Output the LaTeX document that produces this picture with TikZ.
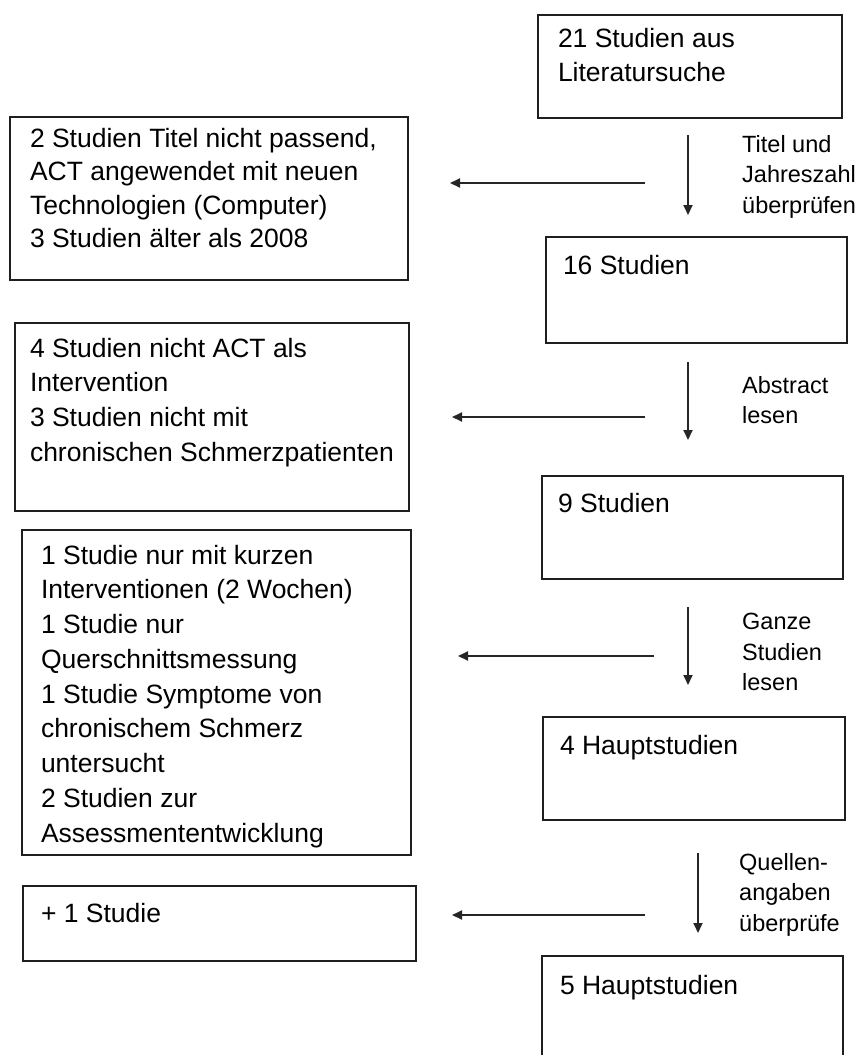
\documentclass[tikz,border=0pt]{standalone}
\usepackage{fontspec}
\setmainfont{Liberation Sans}
\usetikzlibrary{arrows.meta}
% #1 width, #2 height, #3 top pad, #4 left pad, #5 baselineskip, #6 text
\newcommand{\boxcontent}[6]{\parbox[t][#2pt][t]{#1pt}{\fontsize{26.5}{#5}\selectfont\raggedright\leftskip=#4pt\relax\vspace*{#3pt}#6}}
\tikzset{
  stepbox/.style={draw=black!88, line width=2pt, inner sep=0pt, outer sep=0pt, anchor=north west},
  steplabel/.style={inner sep=0pt, anchor=north west, align=left, font=\fontsize{23.5}{30.5}\selectfont},
  flow/.style={draw=black!85, line width=1.8pt, -{Triangle[length=10pt,width=9pt]}}
}
\begin{document}
\begin{tikzpicture}[x=1pt,y=-1pt]
\useasboundingbox (0,0) rectangle (863,1055);
\clip (0,0) rectangle (863,1055);

% right column
\node[stepbox] (b1) at (538,15) {\boxcontent{304}{103}{13}{20}{34}{21 Studien aus\\Literatursuche}};
\node[stepbox] (b16) at (546,237) {\boxcontent{301}{106}{18}{17}{34}{16 Studien}};
\node[stepbox] (b9) at (542,476) {\boxcontent{301}{103}{17}{16}{34}{9 Studien}};
\node[stepbox] (bh4) at (543,717) {\boxcontent{302}{103}{18}{17}{34}{4 Hauptstudien}};
\node[stepbox] (bh5) at (542,956) {\boxcontent{301}{140}{19}{18}{34}{5 Hauptstudien}};

% left column
\node[stepbox] (e1) at (10,117) {\boxcontent{398}{163}{11}{20}{33.4}{2 Studien Titel nicht passend,\\ACT angewendet mit neuen\\Technologien (Computer)\\3 Studien älter als 2008}};
\node[stepbox] (e2) at (15,323) {\boxcontent{394}{188}{15}{15}{34.6}{4 Studien nicht ACT als\\Intervention\\3 Studien nicht mit\\chronischen Schmerzpatienten}};
\node[stepbox] (e3) at (22,530) {\boxcontent{389}{325}{15}{19}{34.75}{1 Studie nur mit kurzen\\Interventionen (2 Wochen)\\1 Studie nur\\Querschnittsmessung\\1 Studie Symptome von\\chronischem Schmerz\\untersucht\\2 Studien zur\\Assessmententwicklung}};
\node[stepbox] (e4) at (23,886) {\boxcontent{393}{75}{17}{18}{34}{+ 1 Studie}};

% arrow end points
\coordinate (d1s) at (688,135); \coordinate (d1e) at (688,215);
\coordinate (l1s) at (645,183); \coordinate (l1e) at (450,183);
\coordinate (d2s) at (688,362); \coordinate (d2e) at (688,440);
\coordinate (l2s) at (645,417); \coordinate (l2e) at (452,417);
\coordinate (d3s) at (688,607); \coordinate (d3e) at (688,685);
\coordinate (l3s) at (654,656); \coordinate (l3e) at (458,656);
\coordinate (d4s) at (698,853); \coordinate (d4e) at (698,933);
\coordinate (l4s) at (645,915); \coordinate (l4e) at (452,915);

\draw[flow] (d1s) -- (d1e);
\draw[flow] (l1s) -- (l1e);
\draw[flow] (d2s) -- (d2e);
\draw[flow] (l2s) -- (l2e);
\draw[flow] (d3s) -- (d3e);
\draw[flow] (l3s) -- (l3e);
\draw[flow] (d4s) -- (d4e);
\draw[flow] (l4s) -- (l4e);

% labels
\node[steplabel] (t1) at (742,135) {Titel und\\Jahreszahl\\überprüfen};
\node[steplabel] (t2) at (742,376) {Abstract\\lesen};
\node[steplabel] (t3) at (742,613) {Ganze\\Studien\\lesen};
\node[steplabel] (t4) at (739,853) {Quellen-\\angaben\\überprüfe};
\end{tikzpicture}
\end{document}
